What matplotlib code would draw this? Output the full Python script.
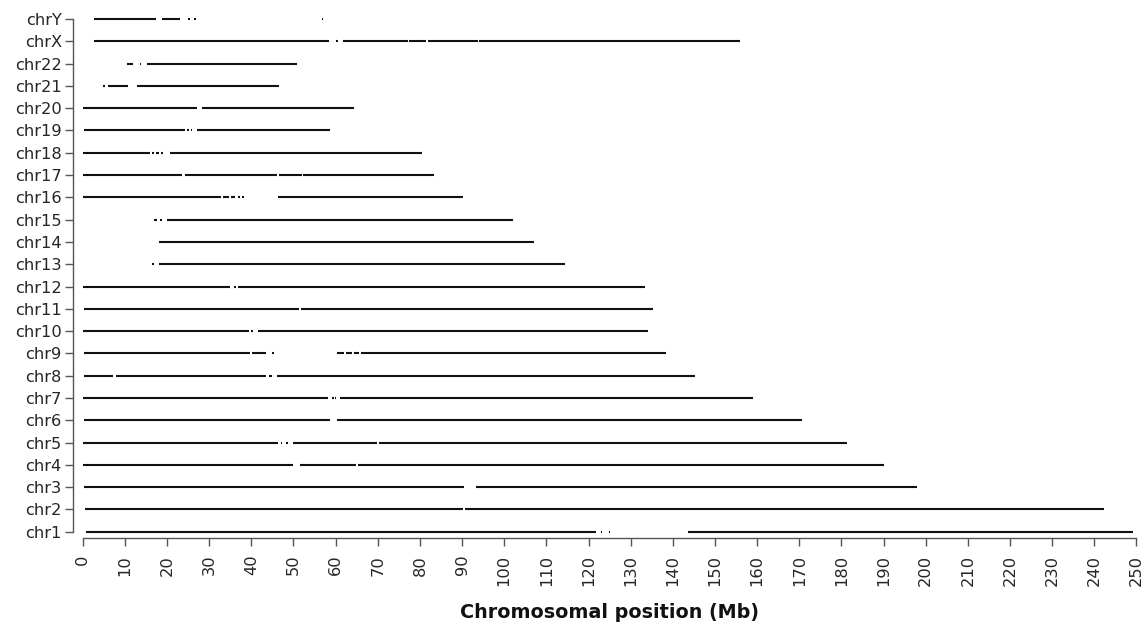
import matplotlib
matplotlib.use("Agg")
import matplotlib.pyplot as plt

# covered stretches per chromosome, (start, end) in Mb
chr1 = [(0.8, 121.8), (122.9, 123.3), (124.8, 125.2), (143.6, 249.2)]
chr2 = [(0.5, 90.2), (90.8, 242.3)]
chr3 = [(0.3, 90.5), (93.2, 197.9)]
chr4 = [(0.1, 49.8), (51.6, 64.9), (65.2, 190.1)]
chr5 = [(0.1, 46.4), (47.0, 47.4), (48.2, 48.6), (50.0, 69.8), (70.2, 181.3)]
chr6 = [(0.2, 58.7), (60.3, 170.7)]
chr7 = [(0.1, 58.3), (59.1, 59.5), (59.8, 60.2), (61.0, 159.1)]
chr8 = [(0.2, 7.2), (8.0, 43.6), (44.3, 44.8), (46.0, 145.3)]
chr9 = [(0.2, 39.7), (40.2, 43.5), (44.9, 45.3), (60.4, 62.0), (62.4, 64.0),
        (64.4, 65.5), (66.0, 138.4)]
chr10 = [(0.1, 39.5), (40.0, 40.4), (41.7, 134.0)]
chr11 = [(0.2, 51.2), (51.9, 135.4)]
chr12 = [(0.1, 34.9), (35.9, 36.3), (36.9, 133.4)]
chr13 = [(16.5, 16.9), (18.0, 114.5)]
chr14 = [(18.1, 107.1)]
chr15 = [(16.9, 17.7), (18.3, 18.7), (19.9, 102.2)]
chr16 = [(0.1, 32.9), (33.4, 34.8), (35.2, 36.1), (36.8, 37.2), (37.8, 38.2),
         (46.3, 90.3)]
chr17 = [(0.1, 23.5), (24.2, 46.2), (46.5, 52.0), (52.3, 83.4)]
chr18 = [(0.1, 16.0), (16.5, 17.0), (17.5, 18.0), (18.6, 19.0), (20.7, 80.4)]
chr19 = [(0.2, 24.3), (24.8, 25.2), (25.6, 26.0), (27.0, 58.7)]
chr20 = [(0.1, 27.0), (28.2, 64.4)]
chr21 = [(4.9, 5.3), (5.9, 10.8), (12.8, 46.6)]
chr22 = [(10.4, 12.0), (13.5, 13.9), (15.2, 50.8)]
chrX = [(2.7, 58.5), (60.1, 60.5), (61.7, 77.1), (77.4, 81.5), (81.9, 93.7),
        (94.0, 155.9)]
chrY = [(2.7, 17.4), (18.8, 23.0), (25.1, 25.5), (26.5, 26.9), (56.7, 57.1)]

chrom_names = ["chr%d" % i for i in range(1, 23)] + ["chrX", "chrY"]
chrom_segs = [chr1, chr2, chr3, chr4, chr5, chr6, chr7, chr8, chr9, chr10,
              chr11, chr12, chr13, chr14, chr15, chr16, chr17, chr18, chr19,
              chr20, chr21, chr22, chrX, chrY]
x_ticks = list(range(0, 251, 10))

text_col = "#262626"
axis_col = "#555555"

fig = plt.figure(figsize=(11.43, 6.26), dpi=100)
ax = fig.add_axes([0.07235, 0.1506, 0.92196, 0.8190])

for i, segs in enumerate(chrom_segs):
    xs = [s[0] for s in segs]
    xe = [s[1] for s in segs]
    ax.hlines([i] * len(segs), xs, xe, colors="#111111", linewidth=1.5,
              capstyle="butt", clip_on=False)

ax.set_xlim(0, 250)
ax.set_ylim(0, len(chrom_names) - 1)
ax.set_yticks(range(len(chrom_names)))
ax.set_yticklabels(chrom_names)
ax.set_xticks(x_ticks)
ax.set_xticklabels([str(t) for t in x_ticks])

for side in ["top", "right"]:
    ax.spines[side].set_visible(False)
ax.spines["left"].set_position(("outward", 6.8))
ax.spines["bottom"].set_position(("outward", 4.8))
ax.spines["left"].set_bounds(0, len(chrom_names) - 1)
ax.spines["bottom"].set_bounds(0, 250)
for side in ["left", "bottom"]:
    ax.spines[side].set_color(axis_col)
    ax.spines[side].set_linewidth(1.0)

ax.tick_params(axis="both", colors=axis_col, labelcolor=text_col,
               labelsize=11.7, length=5.8, width=1.0)
ax.tick_params(axis="y", pad=2.4)
ax.tick_params(axis="x", pad=6.0, labelrotation=90)

ax.set_xlabel("Chromosomal position (Mb)", fontsize=13.8, fontweight="bold",
              color="#111111", labelpad=12)

fig.savefig("out.png", dpi=100)
